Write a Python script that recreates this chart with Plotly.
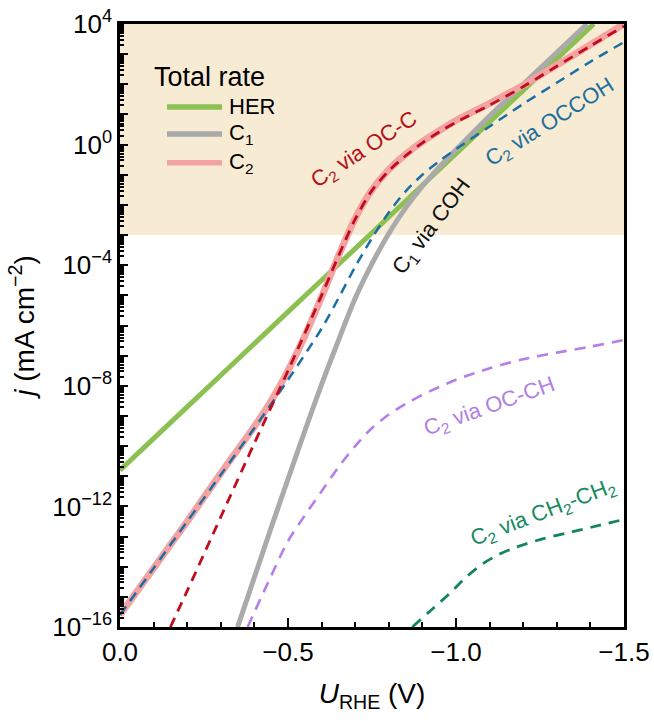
import plotly.graph_objects as go

# ---------------- data (log10 of j in mA cm^-2) ----------------
her_u = [0.0, -0.2, -0.4, -0.6, -0.8, -1.0, -1.2, -1.41]
her_logj = [-10.8, -8.7, -6.6, -4.5, -2.4, -0.3, 1.8, 4.0]

c1_u = [-0.35, -0.45, -0.55, -0.60, -0.65, -0.70, -0.75, -0.80, -0.85, -0.90, -0.95, -1.0, -1.1, -1.2, -1.3, -1.39]
c1_logj = [-16.0, -12.7, -9.5, -7.95, -6.5, -5.1, -3.95, -2.95, -2.1, -1.38, -0.75, -0.17, 0.95, 2.0, 3.05, 4.0]

c2_u = [0.0, -0.1, -0.2, -0.3, -0.4, -0.45, -0.5, -0.55, -0.6, -0.65, -0.7, -0.75, -0.8, -0.85, -0.9, -0.95,
        -1.0, -1.1, -1.2, -1.3, -1.4, -1.5]
c2_logj = [-15.6, -14.05, -12.5, -10.9, -9.35, -8.5, -7.5, -6.35, -5.05, -3.7, -2.45, -1.5, -0.83, -0.32, 0.1, 0.46,
           0.8, 1.37, 1.97, 2.64, 3.31, 4.0]

occoh_u = [0.0, -0.1, -0.2, -0.3, -0.4, -0.5, -0.6, -0.65, -0.7, -0.75, -0.8, -0.85, -0.9, -0.95, -1.0,
           -1.1, -1.2, -1.3, -1.4, -1.5]
occoh_logj = [-15.6, -14.05, -12.5, -10.95, -9.4, -7.8, -6.1, -5.1, -4.05, -3.1, -2.25, -1.55, -1.0, -0.55, -0.15,
              0.6, 1.35, 2.05, 2.75, 3.4]

occ_u = [-0.15, -0.2, -0.3, -0.4, -0.5, -0.6, -0.65, -0.7, -0.75, -0.8, -0.85, -0.9, -0.95, -1.0, -1.1, -1.2, -1.3,
         -1.4, -1.5]
occ_logj = [-16.0, -14.8, -12.35, -9.9, -7.5, -5.0, -3.7, -2.47, -1.52, -0.87, -0.37, 0.06, 0.42, 0.74, 1.31, 1.92,
            2.6, 3.27, 3.93]

occh_u = [-0.38, -0.45, -0.5, -0.55, -0.6, -0.65, -0.7, -0.75, -0.8, -0.85, -0.9, -1.0, -1.1, -1.2, -1.3, -1.4, -1.5]
occh_logj = [-16.0, -14.3, -13.15, -12.3, -11.5, -10.7, -10.0, -9.4, -8.95, -8.6, -8.3, -7.8, -7.42, -7.12, -6.9,
             -6.7, -6.48]

ch2_u = [-0.87, -0.92, -0.98, -1.03, -1.08, -1.13, -1.18, -1.25, -1.33, -1.4, -1.5]
ch2_logj = [-16.0, -15.5, -14.9, -14.35, -13.9, -13.58, -13.35, -13.1, -12.88, -12.7, -12.43]

shade_u = [0.0, -1.5, -1.5, 0.0, 0.0]
shade_logj = [-3, -3, 4, 4, -3]

y_exponents = list(range(-16, 5))
y_label_exponents = [-16, -12, -8, -4, 0, 4]
x_ticks = [0.0, -0.5, -1.0, -1.5]
x_ticklabels = ["0.0", "\u22120.5", "\u22121.0", "\u22121.5"]

legend_names = ["HER", "C<sub>1</sub>", "C<sub>2</sub>"]
legend_colors = ["#8CC152", "#AAAAAA", "#F4A3A3"]

FONT = "Liberation Sans, Arial, sans-serif"


def J(vals):
    return [10 ** v for v in vals]


fig = go.Figure()

fig.add_trace(go.Scatter(x=shade_u, y=J(shade_logj), mode="lines", fill="toself",
                         fillcolor="#F7EBD4", line=dict(width=0, color="#F7EBD4"),
                         showlegend=False, hoverinfo="skip"))

sp = dict(shape="spline", smoothing=0.8)

fig.add_trace(go.Scatter(x=her_u, y=J(her_logj), mode="lines", name="HER", showlegend=False,
                         line=dict(color=legend_colors[0], width=5, **sp)))
fig.add_trace(go.Scatter(x=c1_u, y=J(c1_logj), mode="lines", name="C1", showlegend=False,
                         line=dict(color=legend_colors[1], width=5, **sp)))
fig.add_trace(go.Scatter(x=c2_u, y=J(c2_logj), mode="lines", name="C2", showlegend=False,
                         line=dict(color=legend_colors[2], width=7, **sp)))
fig.add_trace(go.Scatter(x=occoh_u, y=J(occoh_logj), mode="lines", showlegend=False,
                         line=dict(color="#1C6EA4", width=2.5, dash="10px,7px", **sp)))
fig.add_trace(go.Scatter(x=occ_u, y=J(occ_logj), mode="lines", showlegend=False,
                         line=dict(color="#C00D1E", width=2.8, dash="10px,7px", **sp)))
fig.add_trace(go.Scatter(x=occh_u, y=J(occh_logj), mode="lines", showlegend=False,
                         line=dict(color="#B57EEA", width=2.6, dash="11px,8px", **sp)))
fig.add_trace(go.Scatter(x=ch2_u, y=J(ch2_logj), mode="lines", showlegend=False,
                         line=dict(color="#14855A", width=2.8, dash="11px,8px", **sp)))

labels = [
    ("C<sub>2</sub> via OC-C", -0.729, -0.18, -33, "#B5121B"),
    ("C<sub>1</sub> via COH", -0.928, -2.72, -53, "#111111"),
    ("C<sub>2</sub> via OCCOH", -1.28, 0.71, -32, "#1F6E9E"),
    ("C<sub>2</sub> via OC-CH", -1.101, -8.69, -19.5, "#B07FE6"),
    ("C<sub>2</sub> via CH<sub>2</sub>-CH<sub>2</sub>", -1.26, -12.23, -21, "#178A5E"),
]
for txt, xu, ylog, ang, col in labels:
    fig.add_annotation(x=xu, y=ylog, xref="x", yref="y", text=txt, showarrow=False,
                       textangle=ang, font=dict(family=FONT, size=22, color=col))

# legend (title, line samples and labels) in paper coordinates
fig.add_annotation(x=0.0635, y=0.912, xref="paper", yref="paper", text="Total rate",
                   showarrow=False, xanchor="left", yanchor="middle",
                   font=dict(family=FONT, size=27, color="black"))
legend_rows_y = [0.8624, 0.8176, 0.7700]
for name, col, yy in zip(legend_names, legend_colors, legend_rows_y):
    fig.add_shape(type="line", xref="paper", yref="paper", x0=0.0933, x1=0.2024, y0=yy, y1=yy,
                  line=dict(color=col, width=5.5))
    fig.add_annotation(x=0.2123, y=yy, xref="paper", yref="paper", text=name, showarrow=False,
                       xanchor="left", yanchor="middle", xshift=0,
                       font=dict(family=FONT, size=22, color="black"))

ytickvals = [10 ** k for k in y_exponents]
yticktext = [("10<sup>" + str(k).replace("-", "\u2212") + "</sup>") if k in y_label_exponents else ""
             for k in y_exponents]
yminor = [m * 10 ** k for k in y_exponents[:-1] for m in range(2, 10)]

fig.update_xaxes(range=[0, -1.5], tickvals=x_ticks, ticktext=x_ticklabels,
                 ticks="inside", ticklen=9, tickwidth=2, tickcolor="black",
                 minor=dict(dtick=0.1, tick0=0, ticks="inside", ticklen=5, tickwidth=2, tickcolor="black"),
                 showline=True, linewidth=2.5, linecolor="black", mirror=True,
                 showgrid=False, zeroline=False,
                 tickfont=dict(family=FONT, size=26, color="black"),
                 title=dict(text="<i>U</i><sub>RHE</sub> (V)", font=dict(family=FONT, size=28, color="black"),
                            standoff=18))
fig.update_yaxes(type="log", range=[-16, 4], tickvals=ytickvals, ticktext=yticktext,
                 ticks="inside", ticklen=8, tickwidth=2, tickcolor="black",
                 minor=dict(tickvals=yminor, ticks="inside", ticklen=4, tickwidth=1.5, tickcolor="black"),
                 showline=True, linewidth=2.5, linecolor="black", mirror=True,
                 showgrid=False, zeroline=False,
                 tickfont=dict(family=FONT, size=26, color="black"),
                 title=dict(text="<i>j</i> (mA cm<sup>\u22122</sup>)", font=dict(family=FONT, size=28, color="black"),
                            standoff=10))

fig.update_layout(
    width=654, height=721,
    margin=dict(l=120, r=30, t=24, b=94, autoexpand=False),
    paper_bgcolor="white", plot_bgcolor="white",
    font=dict(family=FONT, color="black"),
    showlegend=False,
)

fig.write_html("out.html")
